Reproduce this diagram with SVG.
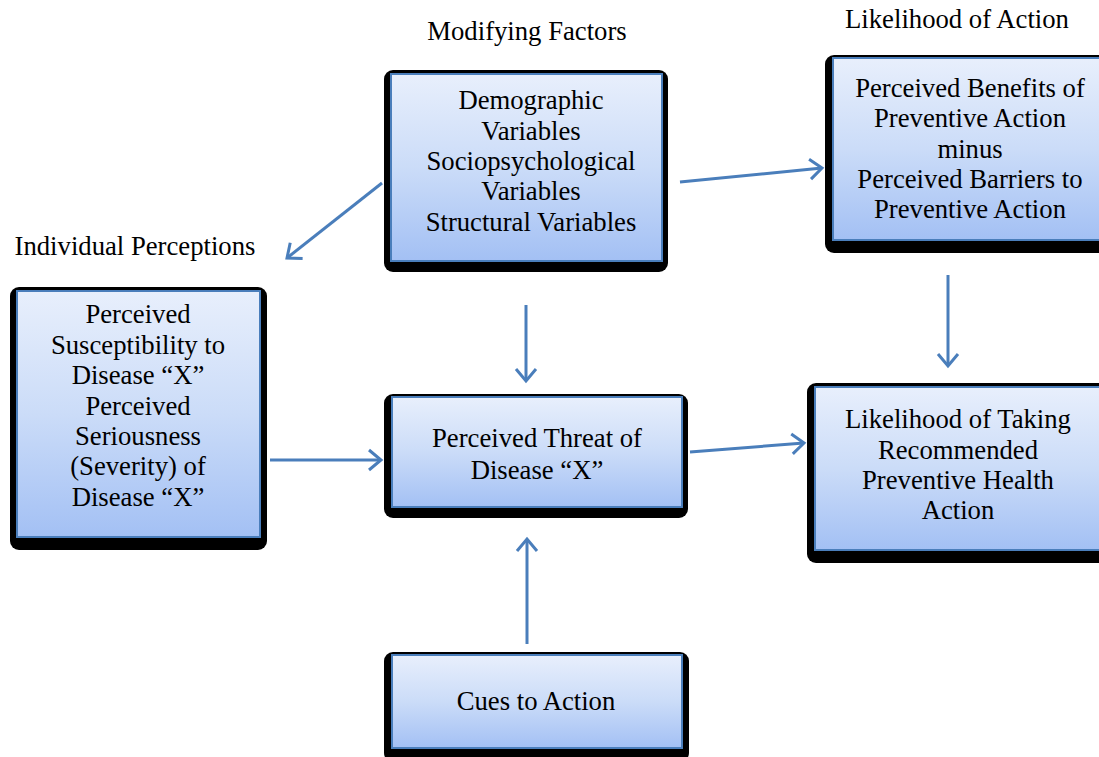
<svg xmlns="http://www.w3.org/2000/svg" width="1099" height="757" viewBox="0 0 1099 757">
<defs>
<linearGradient id="g" x1="0" y1="0" x2="0" y2="1">
<stop offset="0" stop-color="#e8effc"/>
<stop offset="0.5" stop-color="#cbdcf8"/>
<stop offset="1" stop-color="#a3c0f4"/>
</linearGradient>
<marker id="ah" markerUnits="userSpaceOnUse" markerWidth="30" markerHeight="30" viewBox="-16 -15 20 30" refX="0" refY="0" orient="auto">
<path d="M-12,-10 L0,0 L-12,10" fill="none" stroke="#4a7ebb" stroke-width="3"/>
</marker>
<style>
.sh{fill:#000}
.bx{fill:url(#g);stroke:#4a7ebb;stroke-width:2}
text{font-family:"Liberation Serif","Times New Roman",serif;font-size:26.7px;fill:#000;text-anchor:middle}
.c line{stroke:#4a7ebb;stroke-width:3;marker-end:url(#ah)}
</style>
</defs>
<rect width="1099" height="757" fill="#fff"/>
<text x="527" y="40">Modifying Factors</text>
<text x="957" y="28">Likelihood of Action</text>
<text x="135" y="255">Individual Perceptions</text>
<g id="modifying">
<rect class="sh" x="384" y="70" width="284" height="202" rx="9"/>
<rect class="bx" x="391" y="74" width="271" height="187"/>
<text x="531" y="109">Demographic</text>
<text x="531" y="140">Variables</text>
<text x="531" y="170">Sociopsychological</text>
<text x="531" y="200">Variables</text>
<text x="531" y="231">Structural Variables</text>
</g>
<g id="benefits">
<rect class="sh" x="825" y="55" width="290" height="198" rx="9"/>
<rect class="bx" x="833" y="58" width="275" height="182"/>
<text x="970" y="97">Perceived Benefits of</text>
<text x="970" y="127">Preventive Action</text>
<text x="970" y="158">minus</text>
<text x="970" y="188">Perceived Barriers to</text>
<text x="970" y="218">Preventive Action</text>
</g>
<g id="individual">
<rect class="sh" x="10" y="287" width="257" height="263" rx="9"/>
<rect class="bx" x="17" y="291" width="243" height="246"/>
<text x="138" y="323">Perceived</text>
<text x="138" y="354">Susceptibility to</text>
<text x="138" y="384">Disease “X”</text>
<text x="138" y="415">Perceived</text>
<text x="138" y="445">Seriousness</text>
<text x="138" y="475">(Severity) of</text>
<text x="138" y="506">Disease “X”</text>
</g>
<g id="threat">
<rect class="sh" x="384" y="394" width="304" height="124" rx="9"/>
<rect class="bx" x="392" y="397" width="290" height="110"/>
<text x="537" y="447">Perceived Threat of</text>
<text x="537" y="479">Disease “X”</text>
</g>
<g id="likelihood">
<rect class="sh" x="807" y="383" width="310" height="180" rx="9"/>
<rect class="bx" x="815" y="387" width="295" height="163"/>
<text x="958" y="428">Likelihood of Taking</text>
<text x="958" y="459">Recommended</text>
<text x="958" y="489">Preventive Health</text>
<text x="958" y="519">Action</text>
</g>
<g id="cues">
<rect class="sh" x="384" y="652" width="305" height="110" rx="9"/>
<rect class="bx" x="392" y="655" width="290" height="93"/>
<text x="536" y="710">Cues to Action</text>
</g>
<g id="connectors" class="c">
<line x1="382" y1="183" x2="287" y2="258"/>
<line x1="680" y1="182" x2="822" y2="168"/>
<line x1="690" y1="452" x2="804" y2="443"/>
<line x1="948" y1="275" x2="948" y2="366"/>
<line x1="526" y1="305" x2="526" y2="381"/>
<line x1="527" y1="644" x2="527" y2="539"/>
<line x1="270" y1="460" x2="381" y2="460"/>
</g>
</svg>
